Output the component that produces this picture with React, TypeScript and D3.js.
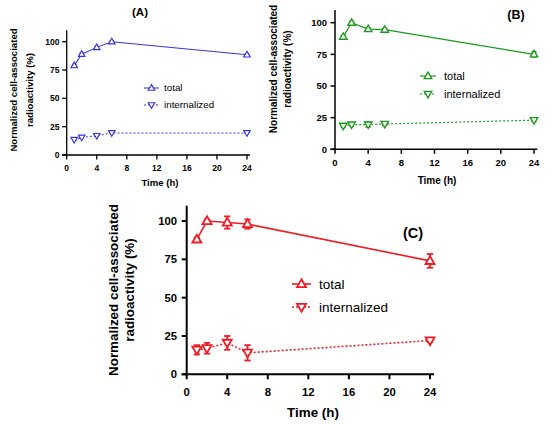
import React from "react";
import * as d3 from "d3";

const times = [1, 2, 4, 6, 24];
const xTicks = [0, 4, 8, 12, 16, 20, 24];
const yTicks = [0, 25, 50, 75, 100];

const totalA = [79, 89, 95, 100, 88.5];
const totalAErr = [1, 1, 1, 1, 1];
const internA = [13.5, 15.5, 17, 19.5, 19.5];
const internAErr = [0.5, 0.5, 0.5, 0.5, 0.5];

const totalB = [89, 100, 95, 94.5, 75];
const totalBErr = [1, 1, 1, 1, 2];
const internB = [18.5, 19.5, 19.5, 20, 23];
const internBErr = [1, 1, 2, 1, 1];

const totalC = [88, 100, 99, 98, 74];
const totalCErr = [1, 1, 4, 3, 4.5];
const internC = [16, 17, 20.5, 14, 22];
const internCErr = [3, 3.5, 4.5, 5, 1];

type Cfg = {
  color: string;
  title: string;
  total: number[];
  totalErr: number[];
  intern: number[];
  internErr: number[];
  x0: number; x1: number; y0: number; y1: number;
  tickFont: number; labelFont: number; legendFont: number; titleFont: number;
  axisW: number; tickLen: number; marker: number;
  yLabX: [number, number]; yLabY: number;
  titleX: number; titleY: number;
  timeX: number; timeY: number;
  xTickY: number; yTickX: number;
  legX: [number, number]; legTextX: number; legY: [number, number];
};

function tri(cx: number, cy: number, s: number, up: boolean) {
  const h = s * 0.866;
  if (up) return `M${cx},${cy - h * 0.6}L${cx + s / 2},${cy + h * 0.4}L${cx - s / 2},${cy + h * 0.4}Z`;
  return `M${cx},${cy + h * 0.6}L${cx + s / 2},${cy - h * 0.4}L${cx - s / 2},${cy - h * 0.4}Z`;
}

function Panel({ c }: { c: Cfg }) {
  const x = d3.scaleLinear().domain([0, 24]).range([c.x0, c.x1]);
  const y = d3.scaleLinear().domain([0, 100]).range([c.y0, c.y1]);
  const line = d3.line<number>().x((_, i) => x(times[i])).y((v) => y(v));
  const font = "Arial, 'Liberation Sans', sans-serif";
  const series = [
    { vals: c.total, err: c.totalErr, up: true, dash: undefined as string | undefined },
    { vals: c.intern, err: c.internErr, up: false, dash: "2,2" },
  ];
  const cap = c.marker * 0.7;
  return (
    <g fontFamily={font}>
      <line x1={c.x0} x2={c.x0} y1={y(110)} y2={c.y0} stroke="#000" strokeWidth={c.axisW} />
      <line x1={c.x0 - c.tickLen} x2={x(24.4)} y1={c.y0} y2={c.y0} stroke="#000" strokeWidth={c.axisW} />
      {yTicks.map((t) => (
        <g key={"y" + t}>
          <line x1={c.x0 - c.tickLen} x2={c.x0} y1={y(t)} y2={y(t)} stroke="#000" strokeWidth={c.axisW} />
          <text x={c.yTickX} y={y(t)} dy="0.35em" textAnchor="end" fontSize={c.tickFont} fontWeight="bold">{t}</text>
        </g>
      ))}
      {xTicks.map((t) => (
        <g key={"x" + t}>
          <line x1={x(t)} x2={x(t)} y1={c.y0} y2={c.y0 + c.tickLen} stroke="#000" strokeWidth={c.axisW} />
          <text x={x(t)} y={c.xTickY} dy="0.35em" textAnchor="middle" fontSize={c.tickFont} fontWeight="bold">{t}</text>
        </g>
      ))}
      <text transform={`translate(${c.yLabX[0]},${c.yLabY}) rotate(-90)`} dy="0.35em" textAnchor="middle" fontSize={c.labelFont} fontWeight="bold">Normalized cell-associated</text>
      <text transform={`translate(${c.yLabX[1]},${c.yLabY}) rotate(-90)`} dy="0.35em" textAnchor="middle" fontSize={c.labelFont} fontWeight="bold">radioactivity (%)</text>
      <text x={c.timeX} y={c.timeY} dy="0.35em" textAnchor="middle" fontSize={c.labelFont} fontWeight="bold">Time (h)</text>
      <text x={c.titleX} y={c.titleY} dy="0.35em" textAnchor="middle" fontSize={c.titleFont} fontWeight="bold">{c.title}</text>
      {series.map((s, si) => (
        <g key={si}>
          <path d={line(s.vals) || ""} fill="none" stroke={c.color} strokeWidth={c.axisW * 0.8} strokeDasharray={s.dash} />
          {s.vals.map((v, i) => (
            <g key={i} stroke={c.color} strokeWidth={c.axisW * 0.9}>
              <line x1={x(times[i])} x2={x(times[i])} y1={y(v - s.err[i])} y2={y(v + s.err[i])} />
              <line x1={x(times[i]) - cap / 2} x2={x(times[i]) + cap / 2} y1={y(v + s.err[i])} y2={y(v + s.err[i])} />
              <line x1={x(times[i]) - cap / 2} x2={x(times[i]) + cap / 2} y1={y(v - s.err[i])} y2={y(v - s.err[i])} />
              <path d={tri(x(times[i]), y(v), c.marker, s.up)} fill="#fff" />
            </g>
          ))}
        </g>
      ))}
      {series.map((s, si) => (
        <g key={"l" + si}>
          <line x1={c.legX[0]} x2={c.legX[1]} y1={c.legY[si]} y2={c.legY[si]} stroke={c.color} strokeWidth={c.axisW * 0.8} strokeDasharray={s.dash} />
          <path d={tri((c.legX[0] + c.legX[1]) / 2, c.legY[si], c.marker, s.up)} fill="#fff" stroke={c.color} strokeWidth={c.axisW * 0.9} />
          <text x={c.legTextX} y={c.legY[si]} dy="0.35em" fontSize={c.legendFont}>{si === 0 ? "total" : "internalized"}</text>
        </g>
      ))}
    </g>
  );
}

const panels: Cfg[] = [
  {
    color: "#3535e0", title: "(A)", total: totalA, totalErr: totalAErr, intern: internA, internErr: internAErr,
    x0: 66.7, x1: 247, y0: 155, y1: 41.7,
    tickFont: 8.5, labelFont: 9.6, legendFont: 9.8, titleFont: 11.5,
    axisW: 1.3, tickLen: 4.5, marker: 6.5,
    yLabX: [14, 30], yLabY: 90, titleX: 140, titleY: 12, timeX: 160, timeY: 183,
    xTickY: 168, yTickX: 59.5, legX: [144, 159], legTextX: 164, legY: [88, 105],
  },
  {
    color: "#1a9a1a", title: "(B)", total: totalB, totalErr: totalBErr, intern: internB, internErr: internBErr,
    x0: 335, x1: 534, y0: 149.3, y1: 22.7,
    tickFont: 9.5, labelFont: 10, legendFont: 11, titleFont: 12.5,
    axisW: 1.5, tickLen: 4.5, marker: 7.5,
    yLabX: [273, 287], yLabY: 69, titleX: 516, titleY: 15, timeX: 437, timeY: 180,
    xTickY: 163, yTickX: 327, legX: [420, 436], legTextX: 444, legY: [76, 94],
  },
  {
    color: "#ee1c24", title: "(C)", total: totalC, totalErr: totalCErr, intern: internC, internErr: internCErr,
    x0: 186.7, x1: 430, y0: 374.3, y1: 221,
    tickFont: 11.3, labelFont: 13.4, legendFont: 13.5, titleFont: 14.5,
    axisW: 2, tickLen: 5, marker: 9,
    yLabX: [113, 129], yLabY: 290, titleX: 413, titleY: 233, timeX: 313, timeY: 412,
    xTickY: 392, yTickX: 177, legX: [292, 311], legTextX: 319, legY: [284, 307],
  },
];

export default function App() {
  return (
    <svg width={550} height={424} style={{ position: "absolute", left: 0, top: 0, background: "#fff" }}>
      <rect width={550} height={424} fill="#fff" />
      {panels.map((p, i) => <Panel key={i} c={p} />)}
    </svg>
  );
}
